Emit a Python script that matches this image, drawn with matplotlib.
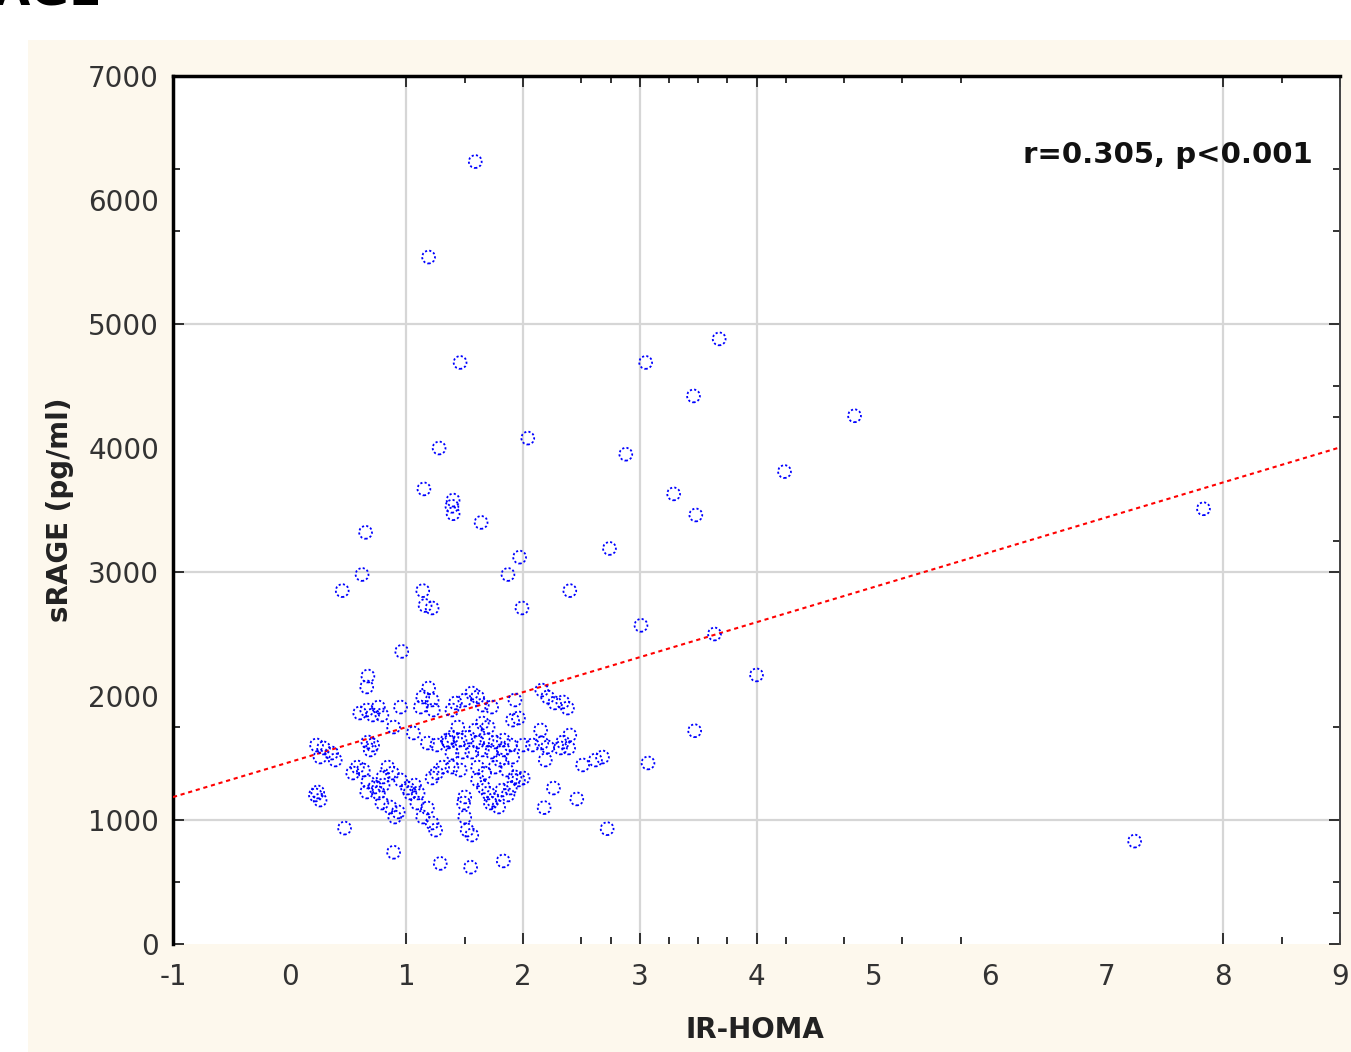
import numpy as np
import matplotlib.pyplot as plt
from matplotlib.patches import Rectangle

# IR-HOMA vs sRAGE
homa = [
    # scattered points
    1.59, 1.19, 1.46, 3.68, 3.05, 3.46, 4.84, 1.28, 2.04, 2.88, 4.24, 1.15,
    1.40, 1.39, 1.40, 1.64, 3.29, 3.48, 7.83, 0.65, 0.62, 0.45, 1.14, 1.16,
    1.22, 1.97, 1.87, 1.99, 2.40, 2.74, 3.01, 3.64, 4.00, 0.96, 3.47, 3.07,
    7.24, 2.72, 2.46, 2.18, 1.83, 1.55, 1.29, 0.89, 0.47,
    # left part of the cluster
    0.67, 0.66, 1.19, 1.14, 1.22, 1.12, 1.23, 0.95, 0.66, 0.76, 0.60, 0.71,
    0.79, 0.89, 1.06, 1.18, 1.26, 1.35, 0.71, 0.67, 0.69, 0.23, 0.29, 0.36,
    0.39, 0.26, 0.58, 0.63, 0.54, 0.84, 0.88, 0.80, 0.67, 0.73, 0.80, 0.66,
    0.76, 0.95, 1.01, 1.07, 1.10, 1.03, 1.26, 1.31, 1.22, 0.24, 0.26, 0.22,
    0.79, 0.86, 0.93, 0.90, 1.09, 1.18, 1.14, 1.22, 1.25,
    # right part of the cluster
    2.16, 2.21, 2.27, 2.34, 2.38, 1.93, 1.56, 1.61, 1.50, 1.42, 1.39, 1.65,
    1.73, 1.91, 1.96, 1.65, 1.59, 1.70, 1.44, 1.39, 1.36, 1.46, 1.53, 1.61,
    1.69, 1.76, 1.83, 1.89, 2.00, 2.08, 2.16, 2.21, 2.34, 2.39, 2.40, 2.32,
    2.15, 1.39, 1.48, 1.56, 1.65, 1.73, 1.83, 1.91, 1.80, 2.19, 2.51, 2.62,
    2.68, 1.39, 1.46, 1.61, 1.67, 1.76, 1.86, 1.93, 1.61, 1.66, 1.70, 1.74,
    1.82, 1.89, 1.96, 2.00, 1.50, 1.49, 1.72, 1.79, 1.87, 2.26, 1.50, 1.52,
    1.56,
]
srage = [
    6310, 5540, 4690, 4880, 4690, 4420, 4260, 4000, 4080, 3950, 3810, 3670,
    3580, 3530, 3470, 3400, 3630, 3460, 3510, 3320, 2980, 2850, 2850, 2730,
    2710, 3120, 2980, 2710, 2850, 3190, 2570, 2500, 2170, 2360, 1720, 1460,
    830, 930, 1170, 1100, 670, 620, 650, 740, 935,
    2161, 2073, 2065, 1992, 1968, 1911, 1887, 1911, 1887, 1911, 1863, 1847,
    1847, 1750, 1702, 1621, 1605, 1645, 1605, 1629, 1565, 1605, 1581, 1540,
    1484, 1508, 1427, 1403, 1379, 1427, 1379, 1347, 1307, 1266, 1282, 1226,
    1218, 1323, 1258, 1282, 1218, 1218, 1379, 1427, 1339, 1226, 1161, 1202,
    1137, 1105, 1065, 1024, 1137, 1097, 1024, 976, 919,
    2048, 1992, 1944, 1952, 1903, 1968, 2024, 1992, 1968, 1944, 1887, 1927,
    1911, 1806, 1823, 1782, 1726, 1750, 1750, 1669, 1629, 1645, 1669, 1629,
    1645, 1629, 1645, 1605, 1605, 1605, 1621, 1589, 1629, 1581, 1686, 1581,
    1726, 1540, 1548, 1548, 1565, 1548, 1565, 1508, 1484, 1484, 1444, 1484,
    1508, 1427, 1403, 1427, 1379, 1427, 1403, 1347, 1323, 1266, 1218, 1161,
    1242, 1258, 1323, 1339, 1186, 1137, 1137, 1105, 1202, 1258, 1024, 919,
    879,
]

# regression line
fit_intercept = 1467
fit_slope = 282
stat_text = 'r=0.305, p<0.001'

x_labels = [-1, 0, 1, 2, 3, 4, 5, 6, 7, 8, 9]
x_no_mark = [0, 5, 6, 7]
x_minor = [1.5, 2.5, 2.75, 3.25, 3.5, 3.75, 4.25, 4.75, 5.25, 5.75, 8.5]
x_grid = [1, 2, 3, 4, 8]
y_labels = [0, 1000, 2000, 3000, 4000, 5000, 6000, 7000]
y_no_mark = [2000, 4000, 6000]
y_minor = [250, 500, 1750, 3250, 4250, 4500, 5750, 6250]
y_minor_left = [500, 1750, 5750, 6250]
y_grid = [1000, 3000, 5000]

fig = plt.figure(figsize=(13.51, 10.52), dpi=100)
fig.patch.set_facecolor('white')
fig.patches.append(Rectangle((28 / 1351, 0), 1 - 28 / 1351, 1 - 40 / 1052,
                             transform=fig.transFigure, facecolor='#fdf8ed',
                             edgecolor='none', zorder=-5))

# cut-off heading at the very top
fig.text(102 / 1351, 1 - 5 / 1052, 'sRAGE', ha='right', va='baseline',
         fontsize=34, fontweight='bold', color='black')

ax = fig.add_axes([173 / 1351, 1 - 944 / 1052, 1167 / 1351, 868 / 1052])
ax.set_zorder(2)
ax.set_facecolor('white')
ax.set_xlim(-1, 9)
ax.set_ylim(0, 7000)

for g in x_grid:
    ax.axvline(g, color='#d6d6d6', lw=1.6, zorder=1)
for g in y_grid:
    ax.axhline(g, color='#d6d6d6', lw=1.6, zorder=1)

xr = np.array([-1, 9])
ax.plot(xr, fit_intercept + fit_slope * xr, color='red', lw=1.5,
        linestyle=(0, (2, 1.8)), zorder=3)

ax.scatter(homa, srage, s=85, facecolors='none', edgecolors='blue',
           linewidths=1.3, linestyle=(0, (1.2, 1.2)), zorder=4)

ax.text(0.977, 0.909, stat_text, transform=ax.transAxes, ha='right',
        va='center', fontsize=21, fontweight='bold', color='#111111')

# spines
ax.spines['left'].set_linewidth(2.5)
ax.spines['top'].set_linewidth(2.5)
ax.spines['right'].set_linewidth(1.4)
ax.spines['right'].set_color('#444444')
ax.spines['bottom'].set_visible(False)

# ticks
ax.set_xticks(x_labels)
ax.set_xticklabels([str(v) for v in x_labels])
ax.set_xticks(x_minor, minor=True)
ax.set_yticks(y_labels)
ax.set_yticklabels([str(v) for v in y_labels])
ax.set_yticks(y_minor, minor=True)
ax.tick_params(axis='both', which='both', direction='in', color='#222222',
               top=True, right=True)
ax.tick_params(axis='both', which='major', length=8, width=1.3)
ax.tick_params(axis='both', which='minor', length=5, width=1.3)
ax.tick_params(axis='x', which='major', pad=14, labelsize=20,
               labelcolor='#333333')
ax.tick_params(axis='y', which='major', pad=10, labelsize=20,
               labelcolor='#333333')
for lbl in ax.get_xticklabels():
    lbl.set_family(['Liberation Sans Narrow', 'DejaVu Sans'])

for t, v in zip(ax.xaxis.get_major_ticks(), x_labels):
    if v in x_no_mark:
        t.tick1line.set_visible(False)
        t.tick2line.set_visible(False)
for t, v in zip(ax.yaxis.get_major_ticks(), y_labels):
    if v in y_no_mark:
        t.tick1line.set_visible(False)
        t.tick2line.set_visible(False)
for t, v in zip(ax.yaxis.get_minor_ticks(), y_minor):
    if v not in y_minor_left:
        t.tick1line.set_visible(False)

fig.text(755 / 1351, 1 - 1030 / 1052, 'IR-HOMA', ha='center', va='center',
         fontsize=20, fontweight='bold', color='#222222')
fig.text(60 / 1351, 1 - 510 / 1052, 'sRAGE (pg/ml)', ha='center',
         va='center', rotation=90, fontsize=20, fontweight='bold',
         color='#222222')

fig.savefig('out.png', dpi=100)
